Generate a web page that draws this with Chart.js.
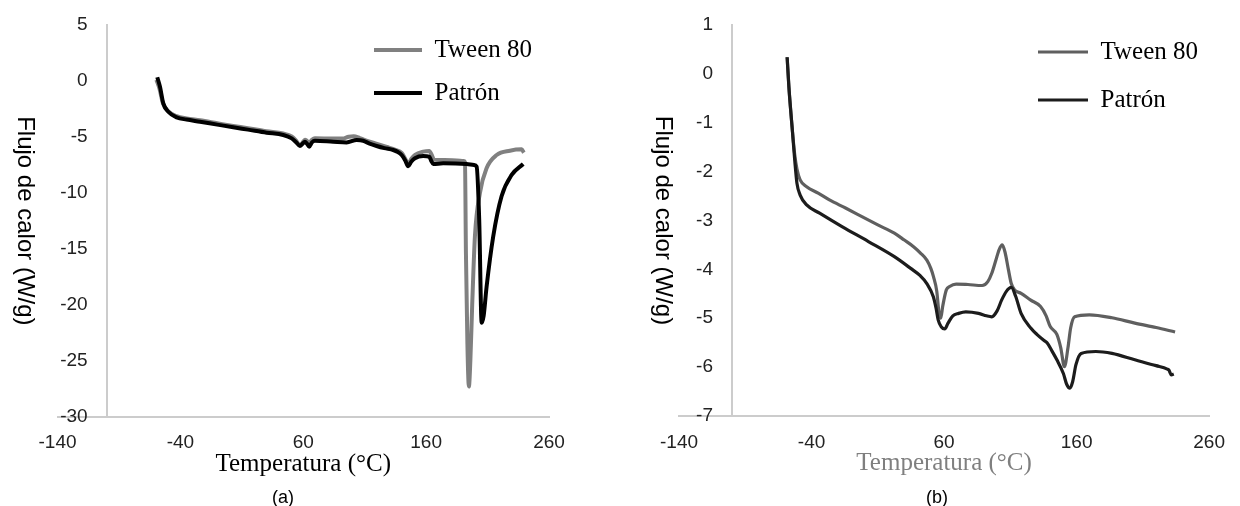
<!DOCTYPE html>
<html>
<head>
<meta charset="utf-8">
<script src="https://cdn.jsdelivr.net/npm/chart.js@4.4.1/dist/chart.umd.min.js"></script>
<style>
html,body{margin:0;padding:0;background:#ffffff;}
#wrap{position:relative;width:1240px;height:506px;overflow:hidden;background:#fff;}
.box{position:absolute;top:0;width:620px;height:506px;}
.cap{position:absolute;top:487px;width:80px;height:20px;line-height:20px;text-align:center;
     font-family:"Liberation Sans",Arial,sans-serif;font-size:18px;color:#000;}
</style>
</head>
<body>
<div id="wrap">
  <div class="box" style="left:0px"><canvas id="chartA" width="620" height="506"></canvas></div>
  <div class="box" style="left:620px"><canvas id="chartB" width="620" height="506"></canvas></div>
  <div class="cap" id="capA" style="left:243px"></div>
  <div class="cap" id="capB" style="left:897px"></div>
</div>
<script>
// ---------- data ----------
const seriesNames = ['Tween 80', 'Patrón'];
const xTicks = [-140, -40, 60, 160, 260];
const yTicksA = [5, 0, -5, -10, -15, -20, -25, -30];
const yTicksB = [1, 0, -1, -2, -3, -4, -5, -6, -7];
const xTitle = 'Temperatura (°C)';
const yTitle = 'Flujo de calor (W/g)';
const captions = ['(a)', '(b)'];

// (a)
const tempTweenA = [-59.5, -57.0, -54.2, -50.0, -43.0, -35, -24, -10, 3, 15, 30, 43.7, 50.6, 54, 57.3, 59.5, 61.4, 63, 64.9, 67, 69.5, 84.4, 92, 97, 101, 106, 112, 120, 128, 135, 140.1, 143, 145.4, 148, 151, 157.6, 162.5, 164.5, 166.5, 175, 185, 190.5, 191.6, 192.4, 193.6, 194.8, 196.0, 197.5, 199.7, 203.8, 209.2, 217.4, 228.2, 237.7, 239.6];
const flowTweenA = [0.1, -0.7, -2.0, -2.7, -3.15, -3.35, -3.52, -3.78, -4.02, -4.22, -4.5, -4.7, -4.95, -5.3, -5.75, -5.5, -5.25, -5.35, -5.5, -5.25, -5.12, -5.15, -5.15, -4.98, -4.95, -5.1, -5.35, -5.62, -5.9, -6.15, -6.42, -6.95, -7.4, -6.95, -6.6, -6.32, -6.25, -6.6, -7.05, -7.06, -7.1, -7.15, -7.25, -15.4, -23.5, -27.3, -25.0, -20.0, -13.9, -10.0, -7.8, -6.62, -6.23, -6.11, -6.41];
const tempPatronA = [-58.8, -56.6, -53.9, -49.8, -43.0, -35, -24.0, -10, 3.0, 15, 30.2, 43.7, 50.6, 54, 57.3, 59.5, 61.4, 63, 64.9, 67, 69.5, 84.4, 95.3, 103.5, 108.8, 114, 119.7, 126, 133.2, 137, 140.1, 143, 145.4, 148, 150.9, 157.6, 162.5, 164, 165.8, 173.9, 193.0, 199, 201.1, 203.2, 205.2, 206.8, 209.2, 214.6, 221.4, 229.6, 239.0];
const flowPatronA = [0.33, -0.51, -2.0, -2.75, -3.25, -3.45, -3.64, -3.9, -4.14, -4.35, -4.62, -4.83, -5.13, -5.45, -5.81, -5.6, -5.43, -5.6, -5.87, -5.5, -5.34, -5.43, -5.49, -5.28, -5.34, -5.6, -5.81, -6.0, -6.17, -6.35, -6.62, -7.1, -7.62, -7.2, -6.9, -6.71, -6.77, -7.1, -7.42, -7.36, -7.42, -7.5, -7.66, -12.4, -21.6, -21.0, -18.4, -13.9, -10.3, -8.4, -7.42];

// (b)
const tempTweenB = [-58.4, -57.1, -54.7, -52.7, -51.0, -48.6, -43.7, -35, -26.5, -14, -2, 10, 22.5, 30, 37.2, 42, 47, 50, 52, 54.5, 56, 57.5, 59, 61.7, 64.2, 69.1, 78, 88.7, 93, 96, 99, 101.5, 103.9, 106, 108.5, 110.7, 113.2, 118.1, 125.4, 132.8, 137, 140.1, 145.1, 148, 150.8, 153.5, 155.5, 158.5, 169.6, 186.7, 203.9, 220, 234.3];
const flowTweenB = [0.34, -0.26, -1.08, -1.65, -1.95, -2.17, -2.31, -2.44, -2.58, -2.75, -2.92, -3.09, -3.26, -3.4, -3.54, -3.66, -3.81, -3.98, -4.15, -4.45, -4.85, -5.0, -4.75, -4.42, -4.35, -4.30, -4.31, -4.33, -4.25, -4.08, -3.82, -3.6, -3.5, -3.65, -4.0, -4.29, -4.42, -4.49, -4.63, -4.76, -4.95, -5.17, -5.33, -5.6, -5.99, -5.6, -5.2, -4.97, -4.93, -4.99, -5.1, -5.19, -5.28];
const tempPatronB = [-58.4, -57.1, -54.7, -52.7, -51.0, -48.6, -43.7, -33.9, -16.7, 2.9, 22.5, 34.8, 42, 47, 51.9, 54, 55.6, 58, 60.5, 63, 66.6, 71, 76.4, 86, 92, 96, 100, 103.4, 107, 110.7, 114, 118.1, 125.4, 130, 135.2, 137.7, 141, 145.1, 150, 152.5, 154.9, 157, 159.5, 163.4, 174.5, 186.7, 203.9, 220, 228.4, 229.6, 231.5, 233.3];
const flowPatronB = [0.34, -0.26, -1.08, -1.76, -2.24, -2.48, -2.68, -2.85, -3.13, -3.43, -3.74, -3.98, -4.13, -4.29, -4.56, -4.8, -5.04, -5.18, -5.22, -5.1, -4.95, -4.9, -4.87, -4.9, -4.95, -4.97, -4.85, -4.63, -4.45, -4.37, -4.55, -4.9, -5.2, -5.33, -5.45, -5.5, -5.65, -5.85, -6.13, -6.35, -6.43, -6.3, -5.95, -5.72, -5.68, -5.72, -5.85, -5.97, -6.04, -6.06, -6.16, -6.14];

// ---------- helpers ----------
const SANS = '"Liberation Sans", Arial, sans-serif';
const SERIF = '"Liberation Serif", "Times New Roman", serif';
Chart.defaults.font.family = SANS;
Chart.defaults.font.lineHeight = 1.2;

document.getElementById('capA').textContent = captions[0];
document.getElementById('capB').textContent = captions[1];

function toPoints(xs, ys) { return xs.map((x, i) => ({ x: x, y: ys[i] })); }

const legendPlacer = {
  id: 'legendPlacer',
  afterLayout(chart, args, opts) {
    const lg = chart.legend;
    if (!lg || opts.x === undefined) return;
    const pad = lg.options.labels.padding;
    lg.left = opts.x - pad;
    lg.top = opts.y - pad;
    lg.right = chart.chartArea.right;
    lg.bottom = chart.chartArea.bottom;
  }
};

function makeChart(id, p) {
  return new Chart(document.getElementById(id), {
    type: 'scatter',
    data: {
      datasets: [
        { label: seriesNames[0], data: toPoints(p.tweenT, p.tweenF), borderColor: p.tweenColor, backgroundColor: p.tweenColor,
          showLine: true, pointRadius: 0, borderWidth: p.lw, cubicInterpolationMode: 'monotone', fill: false, order: 1 },
        { label: seriesNames[1], data: toPoints(p.patronT, p.patronF), borderColor: p.patronColor, backgroundColor: p.patronColor,
          showLine: true, pointRadius: 0, borderWidth: p.lw, cubicInterpolationMode: 'monotone', fill: false, order: 0 }
      ]
    },
    options: {
      responsive: false,
      animation: false,
      devicePixelRatio: 1,
      layout: { padding: p.pad },
      scales: {
        x: {
          type: 'linear', min: xTicks[0], max: xTicks[xTicks.length - 1],
          afterBuildTicks: ax => { ax.ticks = xTicks.map(v => ({ value: v })); },
          grid: { display: false, drawTicks: false },
          border: { display: true, color: '#cccccc', width: 2 },
          ticks: { font: { size: 19 }, color: '#222222', padding: 15, maxRotation: 0, autoSkip: false },
          title: { display: true, text: xTitle, color: p.xTitleColor,
                   font: { family: SERIF, size: 25, lineHeight: 1.2 }, padding: { top: -20.5, bottom: 0 } }
        },
        y: {
          type: 'linear', position: { x: -100 }, min: p.yTicks[p.yTicks.length - 1], max: p.yTicks[0],
          afterBuildTicks: ax => { ax.ticks = p.yTicks.map(v => ({ value: v })); },
          grid: { display: false, drawTicks: false },
          border: { display: true, color: '#cccccc', width: 2 },
          ticks: { font: { size: 19 }, color: '#222222', padding: 0, autoSkip: false,
                   callback: v => String(v) + '\u2003' },
          title: { display: true, text: yTitle, color: '#000000',
                   font: { size: 24, lineHeight: 1.2 }, padding: { top: p.yTitlePad, bottom: 0 } }
        }
      },
      plugins: {
        legend: {
          position: 'chartArea', align: 'start',
          labels: {
            usePointStyle: true, pointStyle: 'line', pointStyleWidth: p.legBox,
            font: { family: SERIF, size: 25 }, color: '#000000', padding: p.legPad,
            sort: (a, b) => a.datasetIndex - b.datasetIndex
          }
        },
        title: { display: false },
        tooltip: { enabled: false },
        legendPlacer: { x: p.legX, y: p.legY }
      }
    },
    plugins: [legendPlacer]
  });
}

makeChart('chartA', {
  tweenT: tempTweenA, tweenF: flowTweenA, patronT: tempPatronA, patronF: flowPatronA,
  tweenColor: '#808080', patronColor: '#000000', lw: 4,
  yTicks: yTicksA, pad: { left: 57.5, right: 71, top: 25, bottom: 27 },
  xTitleColor: '#000000', yTitlePad: 20.8,
  legBox: 48, legPad: 18, legX: 374, legY: 37.5
});

makeChart('chartB', {
  tweenT: tempTweenB, tweenF: flowTweenB, patronT: tempPatronB, patronF: flowPatronB,
  tweenColor: '#5f5f5f', patronColor: '#1c1c1c', lw: 3.2,
  yTicks: yTicksB, pad: { left: 59, right: 17, top: 25, bottom: 27.7 },
  xTitleColor: '#7f7f7f', yTitlePad: 19.1,
  legBox: 50, legPad: 23, legX: 418, legY: 39.5
});
</script>
</body>
</html>
